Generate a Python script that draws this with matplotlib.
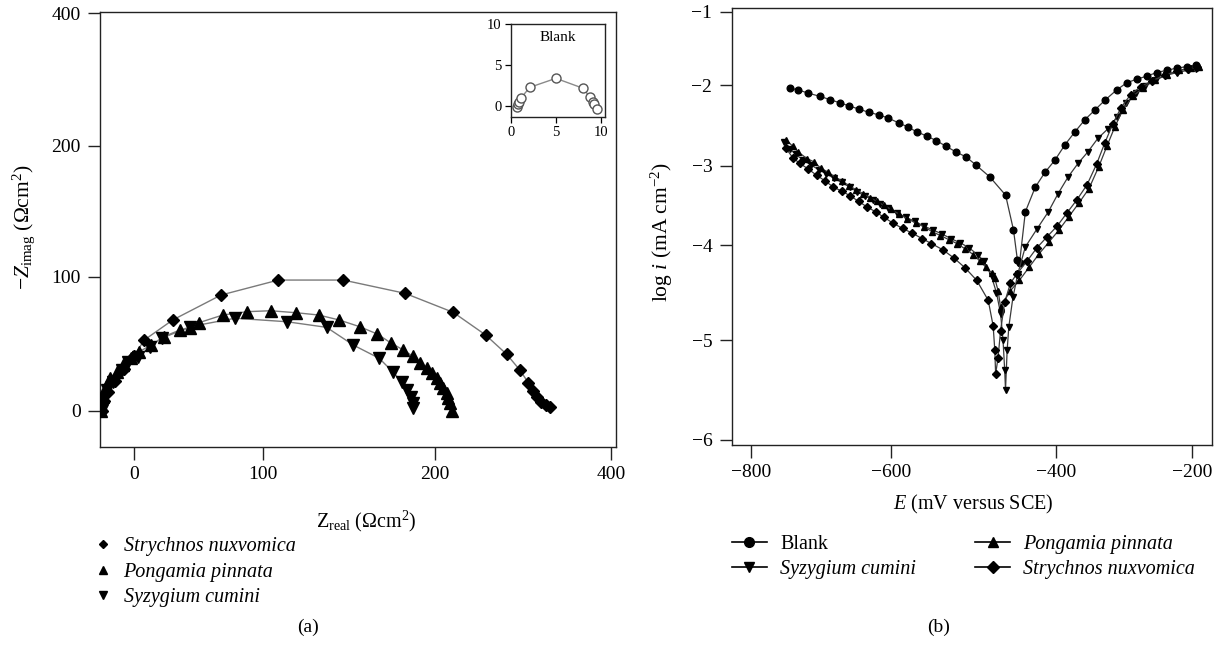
import numpy as np
import matplotlib
matplotlib.use("Agg")
import matplotlib.pyplot as plt
from matplotlib.lines import Line2D

plt.rcParams["font.family"] = ["Liberation Serif", "DejaVu Serif"]
plt.rcParams["mathtext.fontset"] = "custom"
plt.rcParams["mathtext.rm"] = "Liberation Serif"
plt.rcParams["mathtext.it"] = "Liberation Serif:italic"
plt.rcParams["mathtext.bf"] = "Liberation Serif:bold"

# ---------------- (a) Nyquist data ----------------
sn_zreal = [-24.7, -23.0, -20.0, -15.0, -8.0, 0.0, 8.0, 30.0, 67.4, 108.9, 146.7,
            182.6, 220.8, 257.6, 281.5, 296.4, 306.1, 311.7, 316.4, 321.0, 325.7, 330.3]
sn_zimag = [0.0, 7.0, 14.0, 22.0, 31.0, 41.0, 52.8, 67.7, 86.3, 97.5, 97.5,
            87.6, 73.4, 56.5, 42.1, 30.4, 20.9, 14.9, 10.0, 6.7, 4.3, 2.5]

pp_zreal = [-25.3, -25.3, -24.0, -21.5, -18.4, -13.6, -8.8, -2.5, 3.9, 13.3, 22.9,
            35.5, 43.4, 50.4, 68.8, 87.6, 104.4, 119.4, 132.4, 144.3, 156.2, 166.5,
            174.2, 181.6, 187.0, 191.3, 195.2, 198.1, 202.0, 205.7, 209.4, 213.3,
            215.1, 217.0, 219.0]
pp_zimag = [0.0, 4.3, 10.4, 17.9, 24.2, 29.1, 34.1, 39.1, 44.0, 49.0, 55.2,
            60.2, 61.5, 65.7, 71.4, 73.9, 74.6, 73.1, 71.4, 67.7, 62.7, 57.2,
            50.7, 45.3, 40.8, 35.4, 31.6, 27.9, 24.2, 20.4, 16.7, 13.0,
            9.3, 5.5, 0.0]

sc_zreal = [-25.0, -23.8, -21.1, -16.0, -9.5, -4.4, 3.3, 12.4, 21.4, 43.4, 78.3,
            113.8, 137.0, 152.5, 167.6, 175.4, 180.6, 183.5, 185.9, 187.0, 187.4]
sc_zimag = [0.5, 8.0, 15.4, 21.6, 30.4, 36.6, 40.3, 47.8, 54.0, 62.7, 69.0,
            66.4, 62.2, 49.0, 39.1, 29.1, 21.6, 15.4, 10.4, 6.0, 1.8]

blank_zreal = [0.65, 0.76, 0.95, 1.10, 2.13, 5.02, 8.06, 8.80, 9.10, 9.24, 9.54]
blank_zimag = [-0.08, 0.20, 0.53, 0.94, 2.28, 3.37, 2.15, 1.06, 0.53, 0.24, -0.37]

nyq_xticks = [0, 100, 200, 400]
nyq_yticks = [0, 100, 200, 400]

# ---------------- (b) Tafel data ----------------
bl_E = [-743.7, -732.4, -718.3, -701.4, -687.3, -673.2, -659.2, -645.1, -631.0,
        -616.9, -603.9, -590.4, -579.4, -568.8, -556.8, -544.8, -532.9, -520.9,
        -508.9, -496.9, -480.1, -460.9, -451.3, -446.5, -444.0, -436.9, -424.9,
        -412.9, -401.0, -386.5, -371.8, -357.2, -342.5, -327.9, -310.3, -295.6,
        -280.9, -266.3, -251.6, -236.9, -222.3, -207.6, -193.0]
bl_logi = [-2.04, -2.06, -2.10, -2.14, -2.18, -2.22, -2.26, -2.30, -2.34,
           -2.37, -2.41, -2.47, -2.52, -2.58, -2.63, -2.69, -2.76, -2.83,
           -2.89, -2.99, -3.14, -3.37, -3.81, -4.16, -4.19, -3.58, -3.27,
           -3.08, -2.93, -2.74, -2.58, -2.43, -2.31, -2.19, -2.06, -1.97,
           -1.92, -1.88, -1.83, -1.80, -1.77, -1.75, -1.73]

pp_E = [-749, -740, -732, -720, -710, -700, -690, -680, -670, -660, -650, -640,
        -630, -620, -610, -600, -590, -580, -570, -560, -550, -540, -530, -520,
        -510, -500, -492, -485, -478, -474, -470, -467,
        -455, -444.1, -432.1, -420.1, -408.1, -395.3, -380.6, -366.0, -351.3,
        -336.7, -324.9, -313.2, -301.5, -286.8, -272.1, -254.5, -236.9, -219.4,
        -201.8, -190.0]
pp_logi = [-2.68, -2.76, -2.83, -2.91, -2.95, -3.03, -3.08, -3.14, -3.19, -3.25,
           -3.30, -3.35, -3.40, -3.45, -3.50, -3.55, -3.61, -3.67, -3.72, -3.77,
           -3.83, -3.88, -3.93, -3.98, -4.04, -4.10, -4.17, -4.23, -4.29, -4.35,
           -4.48, -4.65,
           -4.48, -4.37, -4.23, -4.09, -3.96, -3.81, -3.64, -3.47, -3.29,
           -3.01, -2.76, -2.52, -2.31, -2.14, -2.04, -1.93, -1.86, -1.80,
           -1.77, -1.75]

sc_E = [-753, -744, -736, -725, -714, -703, -692, -681, -670, -659, -648, -637,
        -626, -615, -604, -593, -582, -571, -560, -549, -538, -527, -516, -505,
        -495, -487, -478, -472, -467, -464, -462, -461,
        -459, -457, -452, -446, -437, -423, -409, -396.5, -381.8, -367.2, -353,
        -338, -323, -310, -296, -282, -268, -253, -238, -222, -206, -193]
sc_logi = [-2.70, -2.79, -2.86, -2.93, -2.99, -3.05, -3.10, -3.16, -3.21, -3.27,
           -3.33, -3.38, -3.43, -3.48, -3.53, -3.59, -3.65, -3.70, -3.76, -3.81,
           -3.86, -3.92, -3.97, -4.03, -4.10, -4.17, -4.33, -4.50, -4.72, -5.00,
           -5.30, -5.50,
           -5.10, -4.86, -4.55, -4.30, -4.02, -3.80, -3.58, -3.35, -3.14, -2.97,
           -2.83, -2.66, -2.54, -2.40, -2.22, -2.10, -2.01, -1.93, -1.87, -1.83,
           -1.80, -1.78]

sn_E = [-750, -740, -730, -718, -706, -694, -682, -670, -658, -646, -634, -622,
        -610, -598, -586, -574, -562, -551, -537, -523, -510, -496, -482, -476,
        -474, -473,
        -470.1, -467, -462, -455, -447, -435, -423, -411, -398, -384, -369, -354,
        -340, -328, -316, -304, -290, -275, -258, -240, -222, -205, -192]
sn_logi = [-2.78, -2.90, -2.97, -3.04, -3.12, -3.19, -3.27, -3.32, -3.38, -3.45,
           -3.52, -3.58, -3.65, -3.72, -3.79, -3.85, -3.92, -3.98, -4.05, -4.14,
           -4.24, -4.37, -4.58, -4.85, -5.10, -5.34,
           -5.18, -4.90, -4.60, -4.40, -4.30, -4.17, -4.03, -3.90, -3.76, -3.60,
           -3.43, -3.24, -2.98, -2.72, -2.48, -2.28, -2.12, -2.02, -1.94, -1.87,
           -1.81, -1.78, -1.76]

tafel_xticks = [-800, -600, -400, -200]
tafel_yticks = [-6, -5, -4, -3, -2, -1]


def segmented_scale(values, spacing):
    """Piecewise-linear axis scale: tick `values` placed at relative `spacing`."""
    v = np.asarray(values, float)
    p = np.asarray(spacing, float)

    def _map(x, a, b):
        x = np.asarray(x, float)
        y = np.interp(x, a, b)
        lo = b[0] + (x - a[0]) * (b[1] - b[0]) / (a[1] - a[0])
        hi = b[-1] + (x - a[-1]) * (b[-1] - b[-2]) / (a[-1] - a[-2])
        return np.where(x < a[0], lo, np.where(x > a[-1], hi, y))

    return (lambda x: _map(x, v, p)), (lambda y: _map(y, p, v))


TICK_FS = 14
LABEL_FS = 14.5
LEG_FS = 14.5


def style_axes(ax):
    for s in ax.spines.values():
        s.set_linewidth(1.0)
        s.set_color("#222222")
    ax.tick_params(direction="out", length=9, width=1.0, pad=5,
                   labelsize=TICK_FS, color="#222222")
    ax.minorticks_off()


fig = plt.figure(figsize=(12.21, 6.48), dpi=100)

# ---------------- panel (a) ----------------
ax1 = fig.add_axes([0.0819, 0.3102, 0.4226, 0.6713])
ax1.set_xscale("function", functions=segmented_scale(nyq_xticks, [0, 1, 2.333, 3.698]))
ax1.set_yscale("function", functions=segmented_scale(nyq_yticks, [0, 1, 1.978, 2.966]))

line_grey = "#7a7a7a"
for zx, zy, mk, ms in [(sn_zreal, sn_zimag, "D", 6.5),
                       (pp_zreal, pp_zimag, "^", 8),
                       (sc_zreal, sc_zimag, "v", 8)]:
    ax1.plot(zx, zy, "-", color=line_grey, lw=1.0, zorder=2)
    ax1.plot(zx, zy, linestyle="none", marker=mk, ms=ms, color="black",
             mec="black", zorder=3)

ax1.set_xlim(-26.4, 405.7)
ax1.set_ylim(-27.1, 402)
ax1.set_xticks(nyq_xticks)
ax1.set_yticks(nyq_yticks)
style_axes(ax1)
ax1.set_xlabel(r"$\mathrm{Z}_{\mathrm{real}}\ (\Omega\mathrm{cm}^2)$", fontsize=LABEL_FS)
ax1.set_ylabel(r"$-Z_{\mathrm{imag}}\ (\Omega\mathrm{cm}^2)$", fontsize=15.5)
ax1.xaxis.set_label_coords(0.517, -0.142)
ax1.yaxis.set_label_coords(-0.122, 0.506)

# inset: blank
axin = fig.add_axes([0.4183, 0.819, 0.0776, 0.144])
axin.plot(blank_zreal, blank_zimag, "-", color="#8a8a8a", lw=1.0, zorder=2)
axin.plot(blank_zreal, blank_zimag, linestyle="none", marker="o", ms=6.5,
          mfc="white", mec="#555555", mew=1.0, zorder=3)
axin.set_xlim(0, 10.53)
axin.set_ylim(-1.38, 10)
axin.set_xticks([0, 5, 10])
axin.set_yticks([0, 5, 10])
for s in axin.spines.values():
    s.set_linewidth(1.0)
    s.set_color("#222222")
axin.tick_params(direction="out", length=4.5, width=0.9, pad=2, labelsize=10.5)
axin.text(0.5, 0.86, "Blank", transform=axin.transAxes, ha="center", va="center",
          fontsize=11)

# legend for (a)
leg_a_handles = [
    Line2D([], [], linestyle="none", marker="D", ms=4.5, color="black"),
    Line2D([], [], linestyle="none", marker="^", ms=5.5, color="black"),
    Line2D([], [], linestyle="none", marker="v", ms=5.5, color="black"),
]
leg_a = fig.legend(leg_a_handles,
                   ["Strychnos nuxvomica", "Pongamia pinnata", "Syzygium cumini"],
                   loc="upper left", bbox_to_anchor=(93.3 / 1221, 1 - 537 / 648),
                   frameon=False, borderpad=0, borderaxespad=0, handlelength=1.0,
                   handletextpad=0.5, labelspacing=0.32, fontsize=LEG_FS)
for t in leg_a.get_texts():
    t.set_fontstyle("italic")

fig.text(308 / 1221, 1 - 627 / 648, "(a)", ha="center", va="center", fontsize=14)

# ---------------- panel (b) ----------------
ax2 = fig.add_axes([0.5993, 0.314, 0.3936, 0.6732])
ax2.set_xscale("function", functions=segmented_scale(tafel_xticks, [0, 1, 2.174, 3.143]))
ax2.set_yscale("function", functions=segmented_scale(
    tafel_yticks, [0, 1, 1.957, 2.755, 3.568, 4.306]))

tafel_series = [
    (bl_E, bl_logi, "o", 4.8, "Blank"),
    (sc_E, sc_logi, "v", 4.8, "Syzygium cumini"),
    (pp_E, pp_logi, "^", 4.8, "Pongamia pinnata"),
    (sn_E, sn_logi, "D", 3.8, "Strychnos nuxvomica"),
]
for E, li, mk, ms, _ in tafel_series:
    ax2.plot(E, li, "-", color="#3a3a3a", lw=0.9, marker=mk, ms=ms,
             mfc="black", mec="black")

ax2.set_xlim(-827, -169.7)
ax2.set_ylim(-6.05, -0.954)
ax2.set_xticks(tafel_xticks)
ax2.set_yticks(tafel_yticks)
style_axes(ax2)
ax2.set_xlabel(r"$E$ (mV versus SCE)", fontsize=LABEL_FS)
ax2.set_ylabel(r"log $i$ (mA cm$^{-2}$)", fontsize=15.5)
ax2.xaxis.set_label_coords(0.503, -0.112)
ax2.yaxis.set_label_coords(-0.119, 0.487)

def tafel_handle(mk, ms):
    return Line2D([], [], color="black", lw=1.2, marker=mk, ms=ms,
                  mfc="black", mec="black")

leg_b1 = fig.legend([tafel_handle("o", 7), tafel_handle("v", 7)],
                    ["Blank", "Syzygium cumini"],
                    loc="upper left", bbox_to_anchor=(731.7 / 1221, 1 - 535 / 648),
                    frameon=False, borderpad=0, borderaxespad=0, handlelength=1.74,
                    handletextpad=0.66, labelspacing=0.27, fontsize=LEG_FS)
leg_b1.get_texts()[1].set_fontstyle("italic")
leg_b2 = fig.legend([tafel_handle("^", 7), tafel_handle("D", 6)],
                    ["Pongamia pinnata", "Strychnos nuxvomica"],
                    loc="upper left", bbox_to_anchor=(975 / 1221, 1 - 535 / 648),
                    frameon=False, borderpad=0, borderaxespad=0, handlelength=1.74,
                    handletextpad=0.66, labelspacing=0.27, fontsize=LEG_FS)
for t in leg_b2.get_texts():
    t.set_fontstyle("italic")

fig.text(939 / 1221, 1 - 627 / 648, "(b)", ha="center", va="center", fontsize=14)

fig.savefig("out.png", dpi=100)
